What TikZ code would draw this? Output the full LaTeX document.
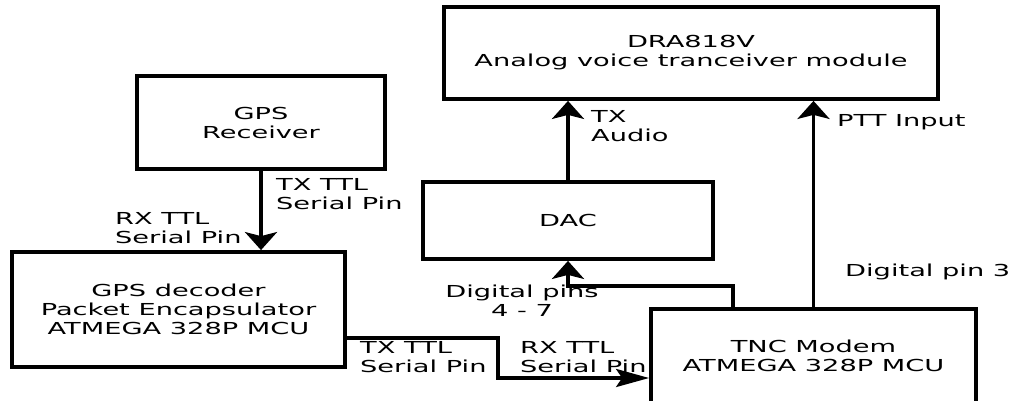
\documentclass[tikz,border=0pt]{standalone}
\usepackage{fontspec}
\setmainfont{DejaVu Sans}[FakeStretch=1.65]
\usetikzlibrary{arrows.meta, positioning, calc}

\begin{document}
\begin{tikzpicture}[
    x=1pt, y=-1pt,
    font=\fontsize{16.5}{19}\selectfont,
    block/.style={rectangle, draw, line width=3.8pt, inner sep=0pt, align=center},
    lbl/.style={inner sep=0pt, align=left, anchor=west},
    arrowv/.style={draw, line width=3.8pt, -{Stealth[length=18pt, width=32pt, inset=4pt]}},
    arrowh/.style={draw, line width=3.4pt, -{Stealth[length=33pt, width=18pt, inset=6pt]}}
]
\path[use as bounding box, clip] (0,0) rectangle (1009,401);

\node[block, minimum width=494pt, minimum height=92pt] (dra) at (691,53) {DRA818V\\Analog voice tranceiver module};
\node[block, minimum width=248pt, minimum height=93pt] (gpsrx) at (261,122.5) {GPS\\Receiver};
\node[block, minimum width=290pt, minimum height=77pt] (dac) at (568,220.5) {DAC};
\node[block, minimum width=333pt, minimum height=115pt] (dec) at (178.5,309.5) {GPS decoder\\Packet Encapsulator\\ATMEGA 328P MCU};
\node[block, minimum width=325pt, minimum height=94pt] (tnc) at (813.5,356) {TNC Modem\\ATMEGA 328P MCU};

\coordinate (bend) at (498,378);

\draw[arrowv] (gpsrx.south) -- (gpsrx.south |- dec.north);
\draw[arrowh] ([yshift=-28.5pt]dec.east) -| (bend) -- (tnc.west |- bend);
\draw[arrowv] ([xshift=-80.5pt]tnc.north) |- ($(dac.south)+(0,25)$) -- (dac.south);
\draw[arrowv] (tnc.north) -- (tnc.north |- dra.south);
\draw[arrowv] (dac.north) -- (dac.north |- dra.south);

\node[lbl] (txgps) at (276,194) {TX TTL\\Serial Pin};
\node[lbl] (rxdec) at (115,228.5) {RX TTL\\Serial Pin};
\node[lbl] (txdec) at (360,357.5) {TX TTL\\Serial Pin};
\node[lbl] (rxtnc) at (520,357.5) {RX TTL\\Serial Pin};
\node[inner sep=0pt, align=center] (digpins) at (522,301) {Digital pins\\4 - 7};
\node[lbl] (pin3) at (845,272) {Digital pin 3};
\node[lbl] (txaudio) at (591,126) {TX\\Audio};
\node[lbl] (ptt) at (837,122) {PTT Input};

\end{tikzpicture}
\end{document}
